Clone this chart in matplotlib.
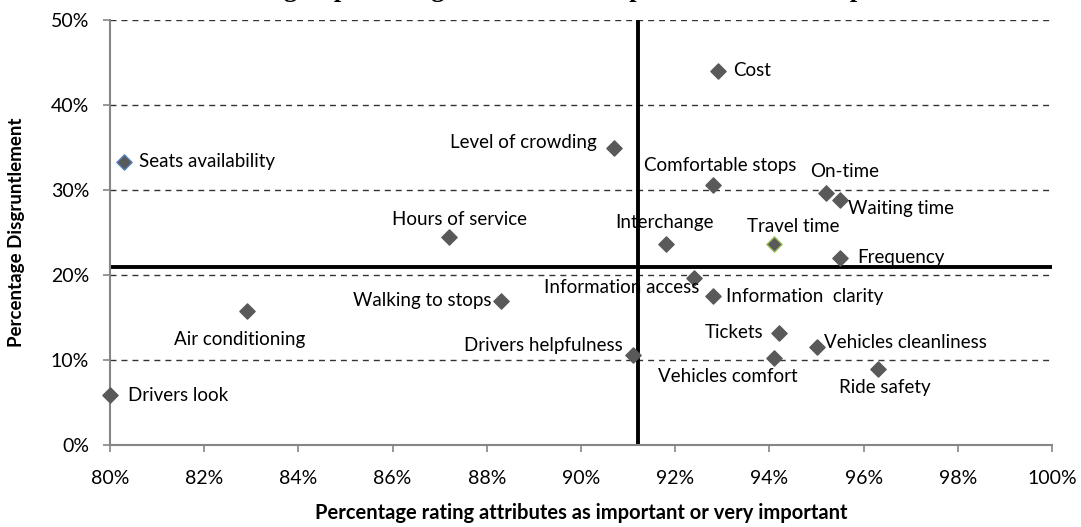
import matplotlib
matplotlib.use("Agg")
import matplotlib.pyplot as plt
from matplotlib.ticker import FuncFormatter, MultipleLocator

plt.rcParams['font.family'] = ['Lato', 'DejaVu Sans']

# attribute, % rating important, % disgruntled
attributes = ["Cost", "Seats availability", "Level of crowding", "Comfortable stops",
              "On-time", "Waiting time", "Hours of service", "Interchange",
              "Travel time", "Frequency", "Information access", "Walking to stops",
              "Information  clarity", "Air conditioning", "Tickets",
              "Drivers helpfulness", "Vehicles cleanliness", "Vehicles comfort",
              "Ride safety", "Drivers look"]
importance = [92.9, 80.3, 90.7, 92.8, 95.2, 95.5, 87.2, 91.8, 94.1, 95.5,
              92.4, 88.3, 92.8, 82.9, 94.2, 91.1, 95.0, 94.1, 96.3, 80.0]
disgruntled = [44.0, 33.3, 34.9, 30.6, 29.6, 28.8, 24.5, 23.7, 23.6, 22.0,
               19.7, 16.9, 17.5, 15.8, 13.2, 10.6, 11.5, 10.2, 8.9, 5.9]

# averages drawn as the quadrant dividers
mean_importance = 91.2
mean_disgruntled = 21.0

# label offsets in pixels and alignment
label_pos = {
    "Cost": (16, 0, "left"),
    "Seats availability": (15, 0, "left"),
    "Level of crowding": (-17, 6, "right"),
    "Comfortable stops": (7, 19, "center"),
    "On-time": (19, 22, "center"),
    "Waiting time": (8, -8, "left"),
    "Hours of service": (10, 17, "center"),
    "Interchange": (-1, 21, "center"),
    "Travel time": (19, 18, "center"),
    "Frequency": (17, 1, "left"),
    "Information access": (5, -10, "right"),
    "Walking to stops": (-9, 1, "right"),
    "Information  clarity": (13, 0, "left"),
    "Air conditioning": (-7, -29, "center"),
    "Tickets": (-15, 0, "right"),
    "Drivers helpfulness": (-10, 9, "right"),
    "Vehicles cleanliness": (8, 5, "left"),
    "Vehicles comfort": (-46, -18, "center"),
    "Ride safety": (7, -18, "center"),
    "Drivers look": (18, -1, "left"),
}
edge_colors = {"Seats availability": "#4F81BD", "Travel time": "#9BBB59"}

fig = plt.figure(figsize=(10.81, 5.27), dpi=100)
ax = fig.add_axes([110 / 1081, 1 - 445 / 527, 942 / 1081, 425 / 527])

ax.set_xlim(80, 100)
ax.set_ylim(0, 50)
for yv in [10, 20, 30, 40, 50]:
    ax.axhline(yv, color="#333333", lw=1.0, ls=(0, (4.3, 3.6)), zorder=1)

ax.axhline(mean_disgruntled, color="black", lw=2.8, zorder=2)
ax.axvline(mean_importance, color="black", lw=2.8, zorder=2)

for name, xv, yv in zip(attributes, importance, disgruntled):
    ec = edge_colors.get(name, "#595959")
    ax.scatter([xv], [yv], marker="D", s=60, color="#595959", edgecolors=ec,
               linewidths=1.0, zorder=3, clip_on=False)
    dx, dy, ha = label_pos[name]
    ax.annotate(name, (xv, yv), xytext=(dx, dy), textcoords="offset pixels",
                ha=ha, va="center", fontsize=13.5, color="black", zorder=4)

ax.xaxis.set_major_locator(MultipleLocator(2))
ax.yaxis.set_major_locator(MultipleLocator(10))
ax.xaxis.set_major_formatter(FuncFormatter(lambda v, p: f"{v:.0f}%"))
ax.yaxis.set_major_formatter(FuncFormatter(lambda v, p: f"{v:.0f}%"))
ax.tick_params(axis="both", colors="#868686", labelcolor="black", labelsize=14,
               length=5, width=1.2)
ax.tick_params(axis="x", pad=13)
ax.tick_params(axis="y", pad=10)

for side in ["top", "right"]:
    ax.spines[side].set_visible(False)
for side in ["left", "bottom"]:
    ax.spines[side].set_color("#868686")
    ax.spines[side].set_linewidth(1.5)

ax.set_xlabel("Percentage rating attributes as important or very important",
              fontsize=14.5, fontweight="bold")
ax.set_ylabel("Percentage Disgruntlement", fontsize=13.5, fontweight="bold")
ax.xaxis.set_label_coords(0.5, -0.136)
ax.yaxis.set_label_coords(-0.090, 0.5)

# title sits above the top edge, only its descenders show
fig.text(0.52, 1 + 2.5 / 527,
         "Mean rating vs percentage dissatisfaction per attribute in the public bus",
         ha="center", va="baseline", fontsize=19, fontweight="bold",
         family=["Liberation Serif", "DejaVu Serif"])

fig.savefig("out.png", dpi=100)
